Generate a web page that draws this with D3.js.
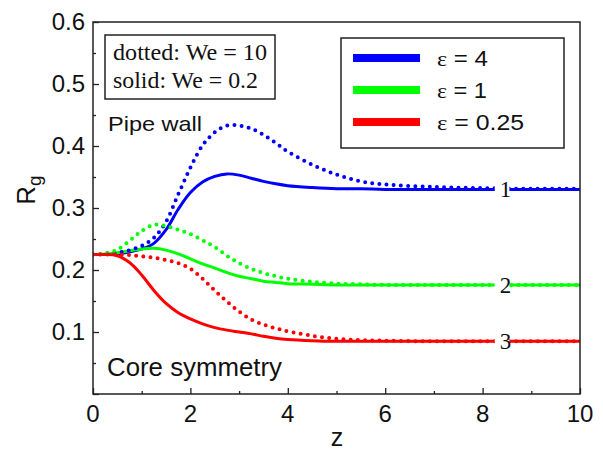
<!DOCTYPE html>
<html><head><meta charset="utf-8">
<script src="https://cdn.jsdelivr.net/npm/d3@7"></script>
<style>body{margin:0;background:#fff}svg{display:block}</style>
</head><body>
<svg id="c" width="603" height="451"></svg>
<script>
const zGrid = [0,0.25,0.5,0.75,1,1.25,1.5,1.75,2,2.25,2.5,2.75,3,3.25,3.5,3.75,4,4.5,5,5.5,6,7,8,9,10];
const blueSolid  = [0.225,0.225,0.226,0.229,0.234,0.243,0.265,0.298,0.325,0.342,0.351,0.355,0.353,0.348,0.343,0.339,0.336,0.333,0.331,0.331,0.330,0.330,0.330,0.330,0.330];
const blueDotted = [0.225,0.226,0.228,0.232,0.239,0.252,0.278,0.322,0.365,0.401,0.422,0.433,0.433,0.428,0.418,0.405,0.391,0.370,0.354,0.343,0.338,0.334,0.332,0.331,0.331];
const greenSolid = [0.225,0.226,0.228,0.231,0.234,0.235,0.232,0.226,0.218,0.210,0.203,0.196,0.190,0.186,0.182,0.180,0.178,0.177,0.176,0.176,0.176,0.176,0.176,0.176,0.176];
const greenDotted= [0.225,0.227,0.233,0.247,0.263,0.273,0.271,0.265,0.258,0.248,0.237,0.223,0.211,0.202,0.195,0.190,0.186,0.181,0.178,0.177,0.176,0.176,0.176,0.176,0.176];
const redSolid   = [0.225,0.225,0.223,0.212,0.192,0.167,0.146,0.131,0.121,0.113,0.107,0.103,0.100,0.097,0.093,0.090,0.088,0.086,0.085,0.085,0.085,0.085,0.085,0.085,0.085];
const redDotted  = [0.225,0.225,0.225,0.224,0.222,0.220,0.216,0.211,0.202,0.186,0.167,0.149,0.133,0.120,0.112,0.106,0.101,0.094,0.089,0.087,0.086,0.085,0.085,0.085,0.085];
const legendLabels = ["4","1","0.25"];
const colors = ["#0000ff","#00ff00","#ff0000"];
const curveLabels = ["1","2","3"];
const xTicks = [0,2,4,6,8,10];
const yTicks = [0.1,0.2,0.3,0.4,0.5,0.6];

const svg = d3.select("#c");
const L=93, T=22, R=580, B=394;
const x = d3.scaleLinear().domain([0,10]).range([L,R]);
const y = d3.scaleLinear().domain([0,0.6]).range([B,T]);
const sans = "Liberation Sans, Arial, sans-serif";
const serif = "Liberation Serif, Times New Roman, serif";

const series = [
  {v:blueSolid,c:colors[0],d:false},{v:greenSolid,c:colors[1],d:false},{v:redSolid,c:colors[2],d:false},
  {v:blueDotted,c:colors[0],d:true},{v:greenDotted,c:colors[1],d:true},{v:redDotted,c:colors[2],d:true}
];
const line = d3.line().x((d,i)=>x(zGrid[i])).y(d=>y(d)).curve(d3.curveCatmullRom.alpha(0.5));
const plot = svg.append("g");
plot.append("clipPath").attr("id","clp").append("rect").attr("x",L).attr("y",T).attr("width",R-L).attr("height",B-T);
series.forEach(s=>{
  const p = plot.append("path").attr("d",line(s.v)).attr("fill","none").attr("stroke",s.c).attr("clip-path","url(#clp)");
  if(s.d){p.attr("stroke-width",4).attr("stroke-dasharray","0 7.2").attr("stroke-linecap","round");}
  else{p.attr("stroke-width",3);}
});

// curve labels with white gap
const endVals=[blueSolid[blueSolid.length-1],greenSolid[greenSolid.length-1],redSolid[redSolid.length-1]];
curveLabels.forEach((t,i)=>{
  const yy=y(endVals[i]);
  svg.append("rect").attr("x",x(8.25)).attr("y",yy-10).attr("width",x(8.55)-x(8.25)).attr("height",20).attr("fill","#fff");
  svg.append("text").attr("x",x(8.47)).attr("y",yy+8).attr("text-anchor","middle")
    .attr("font-family",serif).attr("font-size",23).attr("fill","#111").text(t);
});

// axes
const xAxis = d3.axisBottom(x).tickValues(d3.range(0,11,1)).tickSize(-6).tickFormat("");
const gx = svg.append("g").attr("transform",`translate(0,${B})`).call(xAxis);
gx.selectAll(".tick line").attr("y2",d=>d%2===0?-6:-3);
const yAxis = d3.axisLeft(y).tickValues(d3.range(0,13).map(i=>i*0.05)).tickSize(-6).tickFormat("");
const gy = svg.append("g").attr("transform",`translate(${L},0)`).call(yAxis);
gy.selectAll(".tick line").attr("x2",(d,i)=>i%2===0?6:3);
[gx,gy].forEach(g=>{g.select(".domain").remove();g.selectAll(".tick line").attr("stroke","#222").attr("stroke-width",1.3);});
svg.append("rect").attr("x",L).attr("y",T).attr("width",R-L).attr("height",B-T).attr("fill","none").attr("stroke","#222").attr("stroke-width",1.5);

svg.selectAll(".xl").data(xTicks).enter().append("text").attr("x",d=>x(d)).attr("y",B+28).attr("text-anchor","middle")
  .attr("font-family",sans).attr("font-size",24).attr("fill","#111").text(d=>d);
svg.selectAll(".yl").data(yTicks).enter().append("text").attr("x",L-8).attr("y",d=>y(d)+8).attr("text-anchor","end")
  .attr("font-family",sans).attr("font-size",24).attr("fill","#111").text(d=>d.toFixed(1));
svg.append("text").attr("x",337).attr("y",446).attr("text-anchor","middle").attr("font-family",sans).attr("font-size",25).attr("fill","#111").text("z");
const rl = svg.append("text").attr("transform","translate(35,190) rotate(-90)").attr("text-anchor","middle").attr("font-family",sans).attr("font-size",26).attr("fill","#111");
rl.append("tspan").text("R");
rl.append("tspan").attr("font-size",19).attr("dy",6).text("g");

// textbox
svg.append("rect").attr("x",105).attr("y",35).attr("width",170).attr("height",64).attr("fill","#fff").attr("stroke","#222").attr("stroke-width",1.5);
svg.append("text").attr("x",113).attr("y",60).attr("font-family",serif).attr("font-size",23).attr("fill","#111")
  .attr("textLength",154).attr("lengthAdjust","spacingAndGlyphs").text("dotted: We = 10");
svg.append("text").attr("x",113).attr("y",88).attr("font-family",serif).attr("font-size",23).attr("fill","#111")
  .attr("textLength",145).attr("lengthAdjust","spacingAndGlyphs").text("solid: We = 0.2");

// annotations
svg.append("text").attr("x",108).attr("y",131).attr("font-family",sans).attr("font-size",21).attr("fill","#111")
  .attr("textLength",94).attr("lengthAdjust","spacingAndGlyphs").text("Pipe wall");
svg.append("text").attr("x",107).attr("y",376).attr("font-family",sans).attr("font-size",25).attr("fill","#111")
  .attr("textLength",175).attr("lengthAdjust","spacingAndGlyphs").text("Core symmetry");

// legend
const legW = [51,50,87];
svg.append("rect").attr("x",341).attr("y",38).attr("width",223).attr("height",110).attr("fill","#fff").attr("stroke","#222").attr("stroke-width",1.5);
legendLabels.forEach((t,i)=>{
  const yy = 58+i*32;
  svg.append("line").attr("x1",353).attr("x2",420).attr("y1",yy).attr("y2",yy).attr("stroke",colors[i]).attr("stroke-width",8);
  const tx = svg.append("text").attr("x",437).attr("y",yy+8).attr("font-family",sans).attr("font-size",22).attr("fill","#111")
    .attr("textLength",legW[i]).attr("lengthAdjust","spacingAndGlyphs");
  tx.append("tspan").attr("font-family",serif).text("ε");
  tx.append("tspan").text(" = "+t);
});
</script>
</body></html>
